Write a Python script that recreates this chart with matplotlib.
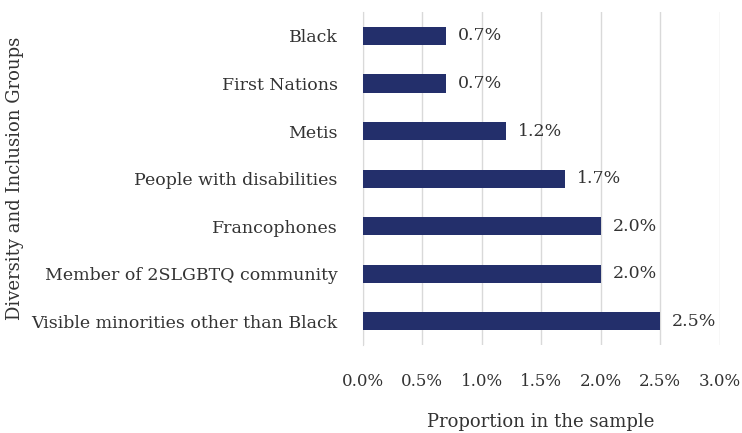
import matplotlib
matplotlib.use("Agg")
import matplotlib.pyplot as plt

groups = [
    "Visible minorities other than Black",
    "Member of 2SLGBTQ community",
    "Francophones",
    "People with disabilities",
    "Metis",
    "First Nations",
    "Black",
]
shares = [2.5, 2.0, 2.0, 1.7, 1.2, 0.7, 0.7]
xticks = [0.0, 0.5, 1.0, 1.5, 2.0, 2.5, 3.0]

plt.rcParams["font.family"] = ["DejaVu Serif"]

fig = plt.figure(figsize=(7.42, 4.33), dpi=100)
ax = fig.add_axes([0.489, 0.203, 0.481, 0.769])

pos = range(len(groups))
ax.barh(pos, shares, height=0.38, color="#232f6b", zorder=3)
for y, v in zip(pos, shares):
    ax.text(v + 0.1, y, f"{v:.1f}%", va="center", ha="left", fontsize=12.5, color="#333333")

ax.set_xlim(0, 3.0)
ax.set_ylim(-0.5, len(groups) - 0.5)
ax.set_xticks(xticks)
ax.set_xticklabels([f"{t:.1f}%" for t in xticks], fontsize=12, color="#333333")
ax.set_yticks(list(pos))
ax.set_yticklabels(groups, fontsize=12.5, color="#333333")
ax.tick_params(axis="x", length=0, pad=20)
ax.tick_params(axis="y", length=0, pad=18)
ax.grid(axis="x", color="#d9d9d9", linewidth=1, zorder=0)

for s in ["top", "right", "bottom"]:
    ax.spines[s].set_visible(False)
ax.spines["left"].set_color("#d9d9d9")

fig.text(0.729, 0.025, "Proportion in the sample", ha="center", va="center",
         fontsize=13, color="#333333")
fig.text(0.02, 0.587, "Diversity and Inclusion Groups", rotation=90, va="center", ha="center",
         fontsize=13, color="#333333")

fig.savefig("out.png", dpi=100)
